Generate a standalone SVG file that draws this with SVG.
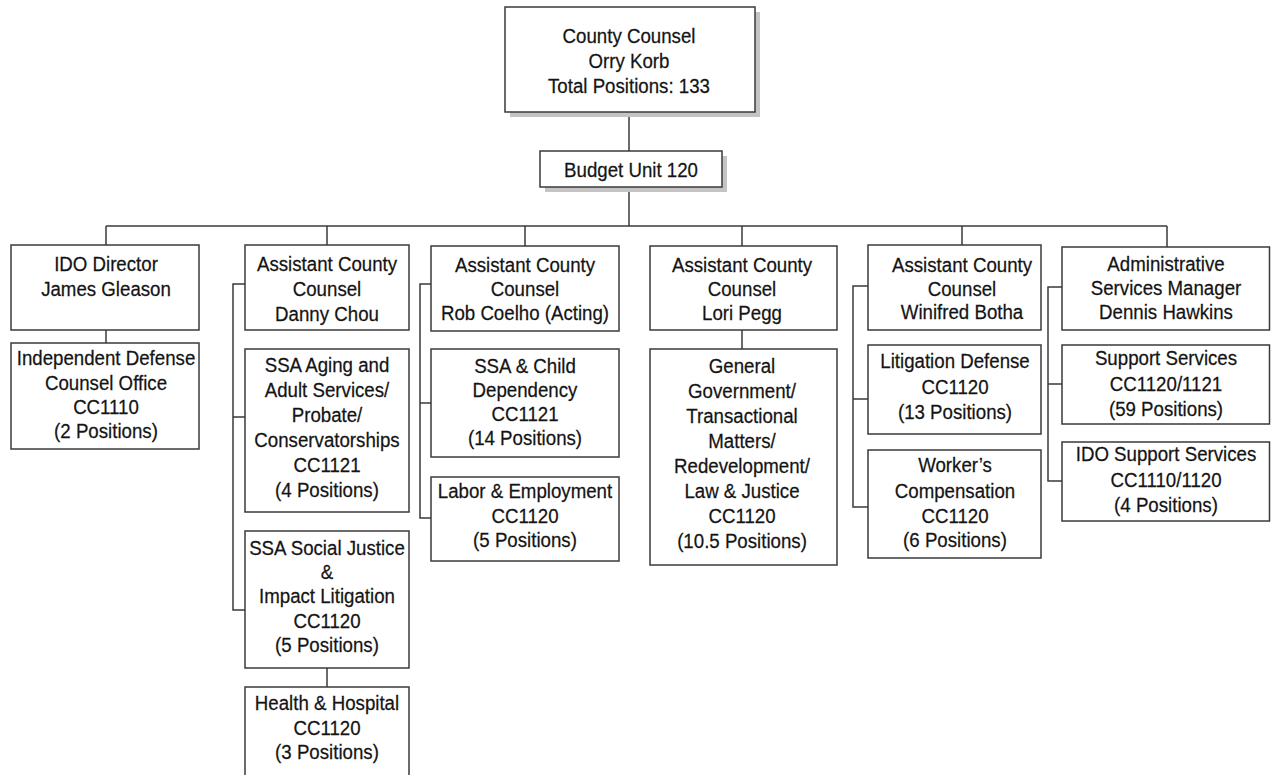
<svg xmlns="http://www.w3.org/2000/svg" width="1271" height="775" viewBox="0 0 1271 775">
  <style>
    .box { fill: #ffffff; stroke: #3a3a3a; stroke-width: 1.5; }
    .shadow { fill: #c4c4c4; stroke: none; }
    .wire { fill: none; stroke: #3a3a3a; stroke-width: 1.5; }
    .lbl { font-family: "Liberation Sans", Arial, sans-serif; font-size: 21px; fill: #141414; stroke: #141414; stroke-width: 0.25; text-anchor: middle; }
  </style>
  <rect width="1271" height="775" fill="#ffffff"/>

  <!-- connectors -->
  <g id="connectors" class="wire">
    <path d="M629 112 V151 M629 187 V226"/>
    <path d="M106 226 H1167"/>
    <path d="M106 226 V245 M327 226 V245 M525 226 V246 M742 226 V246 M962 226 V246 M1167 226 V247"/>
    <!-- IDO Director -->
    <path d="M106 330 V343"/>
    <!-- Danny Chou bracket -->
    <path d="M245 284 H233 V610 H245 M233 417 H245"/>
    <path d="M327 668 V687"/>
    <!-- Rob Coelho bracket -->
    <path d="M431 284 H420 V518 H431 M420 403 H431"/>
    <!-- Lori Pegg -->
    <path d="M742 330 V349"/>
    <!-- Winifred Botha bracket -->
    <path d="M868 286 H853 V507 H868 M853 399 H868"/>
    <!-- Dennis Hawkins bracket -->
    <path d="M1062 287 H1048 V481 H1062 M1048 384 H1062"/>
  </g>

  <g id="county-counsel">
    <rect class="shadow" x="510" y="12" width="250" height="105"/>
    <rect class="box" x="505" y="7" width="250" height="105"/>
    <text class="lbl" transform="translate(629 0) scale(0.89 1)"><tspan x="0" y="43">County Counsel</tspan><tspan x="0" y="68">Orry Korb</tspan><tspan x="0" y="93">Total Positions: 133</tspan></text>
  </g>

  <g id="budget-unit">
    <rect class="shadow" x="545" y="156" width="182" height="36"/>
    <rect class="box" x="540" y="151" width="182" height="36"/>
    <text class="lbl" transform="translate(631 0) scale(0.89 1)"><tspan x="0" y="177">Budget Unit 120</tspan></text>
  </g>

  <!-- column 1 -->
  <g id="ido-director">
    <rect class="box" x="11" y="245" width="188" height="85"/>
    <text class="lbl" transform="translate(106 0) scale(0.89 1)"><tspan x="0" y="271">IDO Director</tspan><tspan x="0" y="296">James Gleason</tspan></text>
  </g>
  <g id="independent-defense">
    <rect class="box" x="11" y="343" width="188" height="106"/>
    <text class="lbl" transform="translate(106 0) scale(0.89 1)"><tspan x="0" y="365">Independent Defense</tspan><tspan x="0" y="390">Counsel Office</tspan><tspan x="0" y="414">CC1110</tspan><tspan x="0" y="438">(2 Positions)</tspan></text>
  </g>

  <!-- column 2 -->
  <g id="danny-chou">
    <rect class="box" x="245" y="245" width="164" height="85"/>
    <text class="lbl" transform="translate(327 0) scale(0.89 1)"><tspan x="0" y="271">Assistant County</tspan><tspan x="0" y="296">Counsel</tspan><tspan x="0" y="321">Danny Chou</tspan></text>
  </g>
  <g id="ssa-aging">
    <rect class="box" x="245" y="349" width="164" height="163"/>
    <text class="lbl" transform="translate(327 0) scale(0.89 1)"><tspan x="0" y="372">SSA Aging and</tspan><tspan x="0" y="397">Adult Services/</tspan><tspan x="0" y="422">Probate/</tspan><tspan x="0" y="447">Conservatorships</tspan><tspan x="0" y="472">CC1121</tspan><tspan x="0" y="497">(4 Positions)</tspan></text>
  </g>
  <g id="ssa-social-justice">
    <rect class="box" x="245" y="531" width="164" height="137"/>
    <text class="lbl" transform="translate(327 0) scale(0.89 1)"><tspan x="0" y="555">SSA Social Justice</tspan><tspan x="0" y="579">&amp;</tspan><tspan x="0" y="603">Impact Litigation</tspan><tspan x="0" y="628">CC1120</tspan><tspan x="0" y="652">(5 Positions)</tspan></text>
  </g>
  <g id="health-hospital">
    <rect class="box" x="245" y="687" width="164" height="100"/>
    <text class="lbl" transform="translate(327 0) scale(0.89 1)"><tspan x="0" y="710">Health &amp; Hospital</tspan><tspan x="0" y="735">CC1120</tspan><tspan x="0" y="759">(3 Positions)</tspan></text>
  </g>

  <!-- column 3 -->
  <g id="rob-coelho">
    <rect class="box" x="431" y="246" width="188" height="85"/>
    <text class="lbl" transform="translate(525 0) scale(0.89 1)"><tspan x="0" y="272">Assistant County</tspan><tspan x="0" y="296">Counsel</tspan><tspan x="0" y="320">Rob Coelho (Acting)</tspan></text>
  </g>
  <g id="ssa-child">
    <rect class="box" x="431" y="349" width="188" height="108"/>
    <text class="lbl" transform="translate(525 0) scale(0.89 1)"><tspan x="0" y="373">SSA &amp; Child</tspan><tspan x="0" y="397">Dependency</tspan><tspan x="0" y="421">CC1121</tspan><tspan x="0" y="445">(14 Positions)</tspan></text>
  </g>
  <g id="labor-employment">
    <rect class="box" x="431" y="477" width="188" height="84"/>
    <text class="lbl" transform="translate(525 0) scale(0.89 1)"><tspan x="0" y="498">Labor &amp; Employment</tspan><tspan x="0" y="523">CC1120</tspan><tspan x="0" y="547">(5 Positions)</tspan></text>
  </g>

  <!-- column 4 -->
  <g id="lori-pegg">
    <rect class="box" x="650" y="246" width="187" height="84"/>
    <text class="lbl" transform="translate(742 0) scale(0.89 1)"><tspan x="0" y="272">Assistant County</tspan><tspan x="0" y="296">Counsel</tspan><tspan x="0" y="320">Lori Pegg</tspan></text>
  </g>
  <g id="general-government">
    <rect class="box" x="650" y="349" width="187" height="216"/>
    <text class="lbl" transform="translate(742 0) scale(0.89 1)"><tspan x="0" y="373">General</tspan><tspan x="0" y="398">Government/</tspan><tspan x="0" y="423">Transactional</tspan><tspan x="0" y="448">Matters/</tspan><tspan x="0" y="473">Redevelopment/</tspan><tspan x="0" y="498">Law &amp; Justice</tspan><tspan x="0" y="523">CC1120</tspan><tspan x="0" y="548">(10.5 Positions)</tspan></text>
  </g>

  <!-- column 5 -->
  <g id="winifred-botha">
    <rect class="box" x="868" y="245" width="173" height="85"/>
    <text class="lbl" transform="translate(962 0) scale(0.89 1)"><tspan x="0" y="272">Assistant County</tspan><tspan x="0" y="296">Counsel</tspan><tspan x="0" y="319">Winifred Botha</tspan></text>
  </g>
  <g id="litigation-defense">
    <rect class="box" x="868" y="345" width="173" height="89"/>
    <text class="lbl" transform="translate(955 0) scale(0.89 1)"><tspan x="0" y="368">Litigation Defense</tspan><tspan x="0" y="394">CC1120</tspan><tspan x="0" y="419">(13 Positions)</tspan></text>
  </g>
  <g id="workers-compensation">
    <rect class="box" x="868" y="450" width="173" height="108"/>
    <text class="lbl" transform="translate(955 0) scale(0.89 1)"><tspan x="0" y="472">Worker’s</tspan><tspan x="0" y="498">Compensation</tspan><tspan x="0" y="523">CC1120</tspan><tspan x="0" y="547">(6 Positions)</tspan></text>
  </g>

  <!-- column 6 -->
  <g id="dennis-hawkins">
    <rect class="box" x="1062" y="247" width="207.5" height="83"/>
    <text class="lbl" transform="translate(1166 0) scale(0.89 1)"><tspan x="0" y="271">Administrative</tspan><tspan x="0" y="295">Services Manager</tspan><tspan x="0" y="319">Dennis Hawkins</tspan></text>
  </g>
  <g id="support-services">
    <rect class="box" x="1062" y="345" width="207.5" height="79"/>
    <text class="lbl" transform="translate(1166 0) scale(0.89 1)"><tspan x="0" y="365">Support Services</tspan><tspan x="0" y="391">CC1120/1121</tspan><tspan x="0" y="416">(59 Positions)</tspan></text>
  </g>
  <g id="ido-support-services">
    <rect class="box" x="1062" y="442" width="207.5" height="79"/>
    <text class="lbl" transform="translate(1166 0) scale(0.89 1)"><tspan x="0" y="461">IDO Support Services</tspan><tspan x="0" y="487">CC1110/1120</tspan><tspan x="0" y="512">(4 Positions)</tspan></text>
  </g>
</svg>
